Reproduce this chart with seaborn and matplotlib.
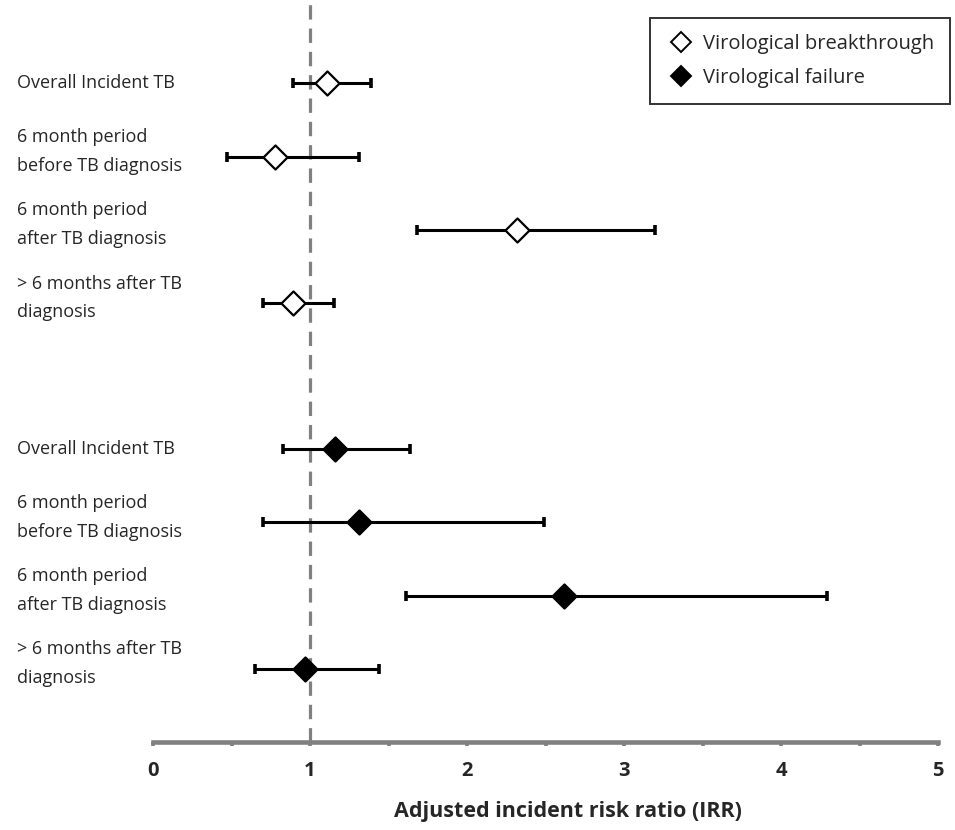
import numpy as np
import pandas as pd
import matplotlib
matplotlib.use("Agg")
import matplotlib.pyplot as plt
import matplotlib.transforms as mtransforms
import seaborn as sns
from matplotlib.lines import Line2D
from matplotlib.ticker import MultipleLocator

# data
labels = ["Overall Incident TB", "6 month period\nbefore TB diagnosis",
          "6 month period\nafter TB diagnosis", "> 6 months after TB\ndiagnosis"]
breakthrough_irr = [1.11, 0.78, 2.32, 0.89]
breakthrough_lo = [0.89, 0.47, 1.68, 0.70]
breakthrough_hi = [1.39, 1.31, 3.20, 1.15]
failure_irr = [1.16, 1.31, 2.62, 0.97]
failure_lo = [0.83, 0.70, 1.61, 0.65]
failure_hi = [1.64, 2.49, 4.29, 1.44]
groups = ["Virological breakthrough", "Virological failure"]

df = pd.DataFrame({
    "label": labels * 2,
    "group": [groups[0]] * 4 + [groups[1]] * 4,
    "irr": breakthrough_irr + failure_irr,
    "lo": breakthrough_lo + failure_lo,
    "hi": breakthrough_hi + failure_hi,
})
# second block sits below a one-row gap
df["row"] = list(range(4)) + list(range(5, 9))

sns.set_theme(style="white")
plt.rcParams["font.family"] = ["Open Sans", "DejaVu Sans"]

fig = plt.figure(figsize=(9.55, 8.3), dpi=100)
ax = fig.add_axes([153 / 955, 1 - 742 / 830, (938 - 153) / 955, 742 / 830])
ax.set_xlim(0, 5)
ax.set_ylim(9.0, -1.14)

ax.axvline(1, color="#808080", lw=2.3, ls=(0, (4.5, 2.8)), zorder=1)

ax.errorbar(df["irr"], df["row"], xerr=[df["irr"] - df["lo"], df["hi"] - df["irr"]],
            fmt="none", ecolor="black", elinewidth=2.2, capsize=3.8, capthick=2.6, zorder=2)

face = {groups[0]: "white", groups[1]: "black"}
for g, sub in df.groupby("group"):
    sns.scatterplot(data=sub, x="irr", y="row", marker="D", s=150,
                    color=face[g], edgecolor="black", linewidth=1.6,
                    ax=ax, zorder=3, legend=False)

# row labels: x in figure coords, y in data coords
trans = mtransforms.blended_transform_factory(fig.transFigure, ax.transData)
for _, r in df.iterrows():
    two_lines = "\n" in r["label"]
    ax.text(17 / 955, r["row"] - (0.07 if two_lines else 0), r["label"], transform=trans,
            ha="left", va="center", fontsize=13, linespacing=1.75, clip_on=False)

ax.set_yticks([])
ax.xaxis.set_major_locator(MultipleLocator(1))
ax.xaxis.set_minor_locator(MultipleLocator(0.5))
ax.tick_params(axis="x", which="both", direction="out", color="#808080",
               bottom=True, width=2.6, length=3)
ax.tick_params(axis="x", which="major", labelsize=14.5, pad=11)
for t in ax.get_xticklabels():
    t.set_fontweight("bold")
for s in ["top", "left", "right"]:
    ax.spines[s].set_visible(False)
ax.spines["bottom"].set_color("#808080")
ax.spines["bottom"].set_linewidth(3.3)
ax.set_xlabel("")
ax.set_ylabel("")
fig.text(568 / 955, 1 - 811 / 830, "Adjusted incident risk ratio (IRR)",
         ha="center", va="center", fontsize=15.5, fontweight="bold")

handles = [Line2D([], [], marker="D", ls="none", markersize=10, markerfacecolor=face[g],
                  markeredgecolor="black", markeredgewidth=1.4) for g in groups]
leg = ax.legend(handles, groups, loc="upper right", bbox_to_anchor=(950 / 955, 1 - 18 / 830),
                bbox_transform=fig.transFigure, borderaxespad=0,
                fontsize=14.5, frameon=True, fancybox=False, edgecolor="black",
                handletextpad=0.4, borderpad=0.8, labelspacing=0.7, handlelength=1.4)
leg.get_frame().set_linewidth(1.4)

fig.savefig("out.png", dpi=100)
